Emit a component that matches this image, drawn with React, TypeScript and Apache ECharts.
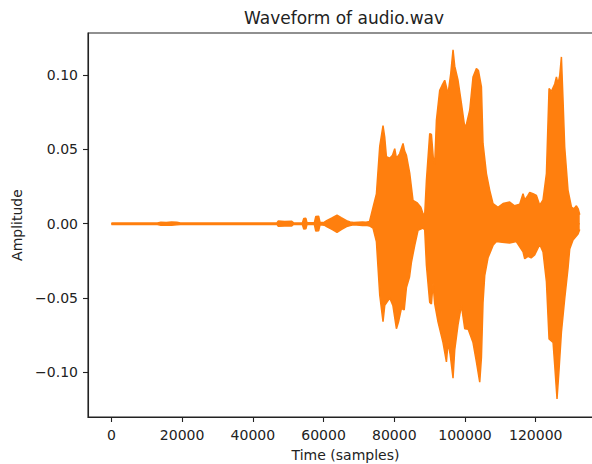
import React, { useEffect, useRef } from "react";
import * as echarts from "echarts";

// Envelope of the waveform (sample index, amplitude)
const upperTime = [
  0, 13000, 14000, 15500, 17000, 18500, 19500, 46800, 47200, 49000, 51000, 51500,
  54000, 54400, 55000, 55300, 57400, 57800, 58600, 59000, 60200, 61000, 62500, 63800,
  65000, 66500, 67500, 68500, 71000, 72000, 73000,
  73980, 74940, 75880, 76810, 77300, 77770, 78700, 79500, 80120, 80600,
  81500, 82470, 82900, 83430, 84360, 85290, 86500, 87500, 88120, 88600,
  89080, 90020, 90500, 91000, 91430, 91910, 92840, 93500, 94260, 94740,
  95190, 95960, 96610, 97090, 98020, 98980, 99920, 100400, 101330, 102260,
  103220, 103800, 104640, 105090, 106050, 106990, 107920, 109330, 110750, 112640,
  114000, 115470, 116400, 116900, 117800, 118300, 119230, 120190, 121130, 122060,
  123020, 123760, 124430, 125370, 125850, 126300, 126800, 127260, 127720, 128190,
  129130, 130090, 130800, 131500, 132000, 132440,
];
const upperAmp = [
  0.0005, 0.0005, 0.001, 0.0008, 0.0011, 0.0009, 0.0005, 0.0005, 0.0018, 0.0015, 0.0016, 0.0005,
  0.0005, 0.0035, 0.0036, 0.0006, 0.0006, 0.0048, 0.005, 0.0008, 0.001, 0.0022, 0.004, 0.0057,
  0.004, 0.002, 0.0012, 0.0008, 0.0012, 0.001, 0.0015,
  0.011, 0.02, 0.052, 0.066, 0.058, 0.045, 0.044, 0.046, 0.0505, 0.044,
  0.047, 0.054, 0.049, 0.046, 0.034, 0.0157, 0.014, 0.011, 0.0067, 0.006,
  0.029, 0.0606, 0.06, 0.045, 0.04, 0.0696, 0.0898, 0.093, 0.0965, 0.092,
  0.087, 0.101, 0.117, 0.106, 0.0965, 0.081, 0.065, 0.067, 0.0763, 0.0987,
  0.1044, 0.103, 0.092, 0.054, 0.0337, 0.0224, 0.0135, 0.011, 0.0135, 0.0146,
  0.012, 0.013, 0.0202, 0.016, 0.019, 0.021, 0.0202, 0.019, 0.0124, 0.016,
  0.0337, 0.091, 0.089, 0.094, 0.0987, 0.094, 0.1, 0.1122, 0.083, 0.0516,
  0.0224, 0.0112, 0.01, 0.012, 0.01, 0.006,
];
const lowerTime = [
  0, 13000, 14000, 15500, 17000, 18500, 19500, 46800, 47200, 49000, 51000, 51500,
  54000, 54400, 55000, 55300, 57400, 57800, 58600, 59000, 60200, 61000, 62500, 63800,
  65000, 66500, 67500, 68500, 71000, 72000,
  73000, 73980, 74940, 75880, 76810, 77300, 78710, 79600, 80600, 81200,
  82010, 82800, 83430, 84300, 84840, 85780, 86710, 88100, 88600, 89080,
  90020, 90500, 90950, 91430, 92360, 93780, 94740, 95200, 95800, 96610,
  97090, 98020, 98980, 99920, 100900, 102260, 103220, 104160, 104640, 105090,
  105570, 106500, 107920, 108880, 110500, 112600, 114500, 116400, 116880, 117800,
  118700, 119700, 121130, 122060, 123020, 123760, 124900, 125370, 126020, 126600,
  127260, 128190, 129130, 129610, 130540, 131960, 132440,
];
const lowerAmp = [
  -0.0005, -0.0005, -0.001, -0.0009, -0.0011, -0.0008, -0.0005, -0.0005, -0.0017, -0.0016, -0.0015, -0.0005,
  -0.0005, -0.0036, -0.0035, -0.0006, -0.0006, -0.005, -0.0048, -0.0008, -0.001, -0.0022, -0.004, -0.0058,
  -0.004, -0.002, -0.0012, -0.0008, -0.0012, -0.001,
  -0.0015, -0.003, -0.012, -0.048, -0.066, -0.055, -0.05, -0.055, -0.0707, -0.066,
  -0.057, -0.058, -0.043, -0.036, -0.026, -0.0146, -0.0045, -0.003, -0.004, -0.028,
  -0.053, -0.054, -0.04, -0.054, -0.066, -0.08, -0.093, -0.08, -0.088, -0.104,
  -0.085, -0.068, -0.055, -0.0707, -0.071, -0.08, -0.093, -0.1067, -0.09, -0.053,
  -0.035, -0.023, -0.0146, -0.012, -0.0125, -0.013, -0.012, -0.019, -0.0236, -0.022,
  -0.023, -0.021, -0.014, -0.019, -0.039, -0.0775, -0.08, -0.0954, -0.118, -0.098,
  -0.073, -0.0505, -0.03, -0.017, -0.011, -0.007, -0.004,
];

const xTicks = [0, 20000, 40000, 60000, 80000, 100000, 120000];
const yTicks = [-0.1, -0.05, 0, 0.05, 0.1];

const FONT = "DejaVu Sans";
const ORANGE = "#ff7f0e";
const INK = "#222";

export default function App() {
  const ref = useRef<HTMLDivElement>(null);
  useEffect(() => {
    const chart = echarts.init(ref.current!, null, { renderer: "svg" });
    const upper = upperTime.map((t, i) => [t, upperAmp[i]]);
    const lower = lowerTime.map((t, i) => [t, lowerAmp[i]]);
    const seriesBase = {
      type: "line",
      showSymbol: false,
      symbol: "none",
      silent: true,
      lineStyle: { color: ORANGE, width: 1.5 },
      itemStyle: { color: ORANGE },
    };
    chart.setOption({
      animation: false,
      backgroundColor: "#ffffff",
      title: {
        text: "Waveform of audio.wav",
        left: 244,
        top: 9,
        padding: 0,
        textStyle: { fontFamily: FONT, fontSize: 17, fontWeight: "normal", color: INK },
      },
      grid: {
        left: 88,
        top: 33,
        width: 515,
        height: 384,
        outerBoundsMode: "none",
        containLabel: false,
        show: true,
        borderColor: INK,
        borderWidth: 1.1,
        backgroundColor: "transparent",
      },
      xAxis: {
        type: "value",
        min: -6620,
        max: 139020,
        name: "Time (samples)",
        nameLocation: "middle",
        nameGap: 31,
        nameTextStyle: { fontFamily: FONT, fontSize: 14, color: INK },
        axisLine: { show: true, onZero: false, lineStyle: { color: INK, width: 1.1 } },
        axisTick: { show: true, length: 5, customValues: xTicks, lineStyle: { color: INK, width: 1.1 } },
        axisLabel: {
          customValues: xTicks,
          formatter: (v: number) => String(Math.round(v)),
          fontFamily: FONT,
          fontSize: 14,
          color: INK,
          margin: 11,
        },
        splitLine: { show: false },
      },
      yAxis: {
        type: "value",
        min: -0.1301,
        max: 0.1283,
        name: "Amplitude",
        nameLocation: "middle",
        nameGap: 59,
        nameTextStyle: { fontFamily: FONT, fontSize: 14, color: INK },
        axisLine: { show: true, onZero: false, lineStyle: { color: INK, width: 1.1 } },
        axisTick: { show: true, length: 5, customValues: yTicks, lineStyle: { color: INK, width: 1.1 } },
        axisLabel: {
          customValues: yTicks,
          formatter: (v: number) => v.toFixed(2).replace("-", "\u2212"),
          fontFamily: FONT,
          fontSize: 14,
          color: INK,
          margin: 10,
        },
        splitLine: { show: false },
      },
      series: [
        { ...seriesBase, name: "upper", data: upper, areaStyle: { color: ORANGE, opacity: 1, origin: -0.0005 } },
        { ...seriesBase, name: "lower", data: lower, areaStyle: { color: ORANGE, opacity: 1, origin: 0.0005 } },
      ],
    });
    return () => chart.dispose();
  }, []);
  return (
    <div
      ref={ref}
      style={{ position: "absolute", left: 0, top: 0, width: 592, height: 464 }}
    />
  );
}
